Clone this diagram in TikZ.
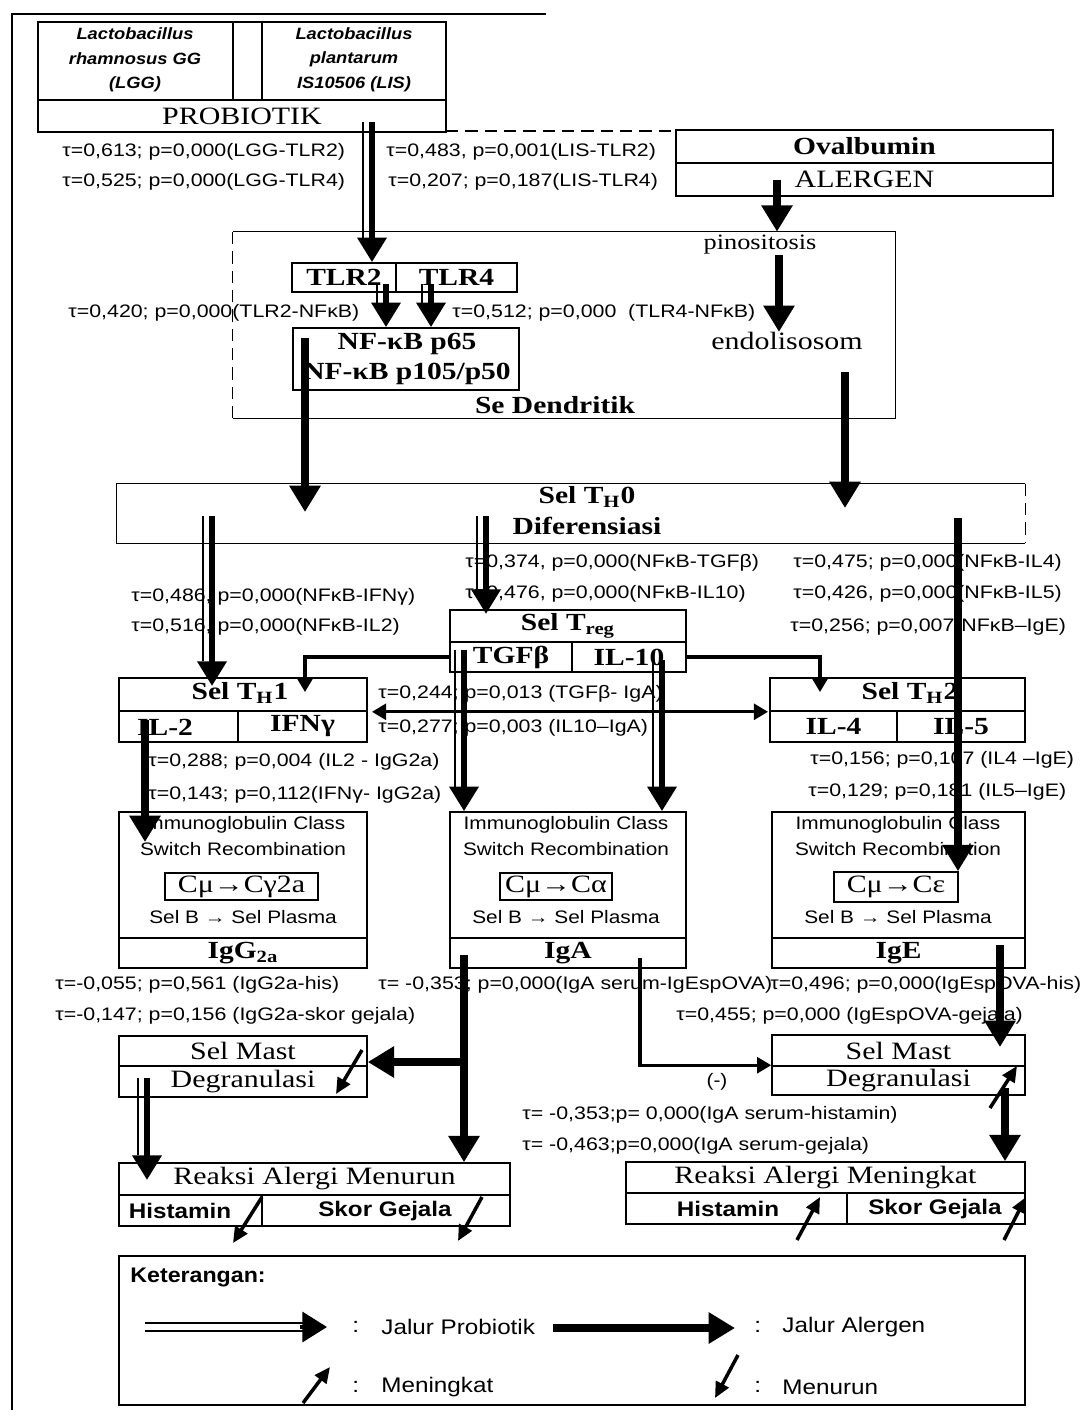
\documentclass[tikz,border=0pt]{standalone}
\usepackage{fontspec}
\setmainfont{Liberation Serif}
\setsansfont{Liberation Sans}
\usetikzlibrary{arrows.meta,fit,calc}
\tikzset{
  cell/.style={draw, line width=0.9pt, inner sep=0pt},
  area/.style={inner sep=0pt},
  side/.style={line width=0.9pt},
  dside/.style={line width=0.9pt, dash pattern=on 7pt off 4pt},
  sr/.style={font=\fontsize{14.2}{16}\selectfont, xscale=1.2, inner sep=0pt},
  srs/.style={font=\fontsize{12.5}{14}\selectfont, xscale=1.2, inner sep=0pt},
  srb/.style={font=\fontsize{14}{16}\selectfont\bfseries, xscale=1.2, inner sep=0pt},
  lab/.style={font=\sffamily\fontsize{10.3}{12}\selectfont, xscale=1.18, inner sep=0pt, anchor=west},
  sm/.style={font=\sffamily\fontsize{10.3}{12}\selectfont, xscale=1.15, inner sep=0pt},
  smb/.style={font=\sffamily\bfseries\fontsize{12}{13}\selectfont, xscale=1.15, inner sep=0pt},
  lat/.style={font=\sffamily\bfseries\itshape\fontsize{9.3}{11}\selectfont, xscale=1.12, inner sep=0pt},
  leg/.style={font=\sffamily\fontsize{12}{14}\selectfont, xscale=1.15, inner sep=0pt, anchor=west},
  legb/.style={font=\sffamily\bfseries\fontsize{12}{14}\selectfont, xscale=1.1, inner sep=0pt, anchor=west},
  alg/.style={line width=5pt, -{Triangle[length=15pt,width=17pt]}},
  prob/.style={line width=3.6pt, -{Triangle[length=14pt,width=16pt]}},
  thinl/.style={line width=0.9pt},
  conn/.style={line width=1.8pt, -{Triangle[length=8pt,width=9pt]}},
  conn2/.style={line width=1.8pt, {Triangle[length=8pt,width=9pt]}-{Triangle[length=8pt,width=9pt]}},
  tilt/.style={line width=2pt, -{Triangle[length=9pt,width=8pt]}},
}
\newcommand\probarrow[2]{%
  \draw[thinl] ([xshift=-5pt]#1) -- ([xshift=-5pt,yshift=14pt]#2);
  \draw[prob] (#1) -- (#2);}
\begin{document}
\begin{tikzpicture}[x=0.02cm,y=-0.02cm]
\useasboundingbox (0,0) rectangle (1087,1417);
\fill[white] (0,0) rectangle (1087,1417);

% outer frame
\coordinate (frTR) at (546,14);
\coordinate (frTL) at (12,14);
\coordinate (frBL) at (12,1410);
\draw[side] (frTR) -- (frTL) -- (frBL);

% PROBIOTIK
\node[cell, fit={(38,22) (233,100)}] (lgg) {};
\node[cell, fit={(233,22) (262,100)}] (gap) {};
\node[cell, fit={(262,22) (446,100)}] (lis) {};
\node[cell, fit={(38,100) (446,132)}] (probrow) {};
\node[lat] (lgg1) at (135,34) {Lactobacillus};
\node[lat] (lgg2) at (135,59) {rhamnosus GG};
\node[lat] (lgg3) at (135,84) {(LGG)};
\node[lat] (lis1) at (354,34) {Lactobacillus};
\node[lat] (lis2) at (354,59) {plantarum};
\node[lat] (lis3) at (354,84) {IS10506 (LIS)};
\node[sr] (probt) at (242,116) {PROBIOTIK};
\coordinate (dl1) at (446,131); \coordinate (dl2) at (676,131);
\draw[dside] (dl1) -- (dl2);

% ALERGEN
\node[cell, fit={(676,130) (1053,163)}] (ova) {};
\node[cell, fit={(676,163) (1053,196)}] (alrg) {};
\node[srb] (ovat) at (ova.center) {Ovalbumin};
\node[sr] (alrgt) at (alrg.center) {ALERGEN};

% top labels
\node[lab] (l1) at (62,152) {τ=0,613; p=0,000(LGG-TLR2)};
\node[lab] (l2) at (62,182) {τ=0,525; p=0,000(LGG-TLR4)};
\node[lab] (l3) at (386,152) {τ=0,483, p=0,001(LIS-TLR2)};
\node[lab] (l4) at (388,182) {τ=0,207; p=0,187(LIS-TLR4)};

% dendritic cell
\node[area, fit={(233,232) (895,418)}] (dc) {};
\draw[side] (dc.north west) -- (dc.north east) -- (dc.south east) -- (dc.south west);
\draw[dside] (dc.south west) -- (dc.north west);
\node[srs] (pino) at (760,245) {pinositosis};
\node[sr] (endo) at (787,341) {endolisosom};
\node[srb] (sedt) at (555,405) {Se Dendritik};
\node[cell, fit={(292,263) (396,292)}] (tlr2) {};
\node[cell, fit={(396,263) (517,292)}] (tlr4) {};
\node[srb] (tlr2t) at (tlr2.center) {TLR2};
\node[srb] (tlr4t) at (tlr4.center) {TLR4};
\node[cell, fit={(293,328) (519,390)}] (nfkb) {};
\node[srb] (nf1) at (407,344) {NF-κB p65};
\node[srb] (nf2) at (407,374) {NF-κB p105/p50};
\node[lab] (l5) at (68,313) {τ=0,420; p=0,000(TLR2-NFκB)};
\node[lab] (l6) at (452,313) {τ=0,512; p=0,000 \ (TLR4-NFκB)};

% TH0
\node[area, fit={(117,484) (1025,543)}] (th0) {};
\draw[side] (th0.north east) -- (th0.north west) -- (th0.south west) -- (th0.south east);
\draw[dside] (th0.north east) -- (th0.south east);
\node[srb] (th0a) at (587,497) {Sel T\textsubscript{H}0};
\node[srb] (th0b) at (587,526) {Diferensiasi};

\node[lab] (l7) at (465,563) {τ=0,374, p=0,000(NFκB-TGFβ)};
\node[lab] (l8) at (465,594) {τ=0,476, p=0,000(NFκB-IL10)};
\node[lab] (l9) at (131,597) {τ=0,486, p=0,000(NFκB-IFNγ)};
\node[lab] (l10) at (131,627) {τ=0,516, p=0,000(NFκB-IL2)};
\node[lab] (l11) at (793,563) {τ=0,475; p=0,000(NFκB-IL4)};
\node[lab] (l12) at (793,594) {τ=0,426, p=0,000(NFκB-IL5)};
\node[lab] (l13) at (790,627) {τ=0,256; p=0,007(NFκB–IgE)};

% Treg
\node[cell, fit={(450,610) (686,642)}] (treg) {};
\node[cell, fit={(450,642) (572,672)}] (tgfb) {};
\node[cell, fit={(572,642) (686,672)}] (il10) {};
\node[srb] (tregt) at (treg.center) {Sel T\textsubscript{reg}};
\node[srb] (tgfbt) at (tgfb.center) {TGFβ};
\node[srb] (il10t) at (il10.center) {IL-10};

% TH1
\node[cell, fit={(119,678) (367,711)}] (th1) {};
\node[cell, fit={(119,711) (238,742)}] (il2) {};
\node[cell, fit={(238,711) (367,742)}] (ifng) {};
\node[srb] (th1t) at (240,693) {Sel T\textsubscript{H}1};
\node[srb] (il2t) at (165,727) {IL-2};
\node[srb] (ifngt) at (ifng.center) {IFNγ};

% TH2
\node[cell, fit={(770,678) (1025,711)}] (th2) {};
\node[cell, fit={(770,711) (897,742)}] (il4) {};
\node[cell, fit={(897,711) (1025,742)}] (il5) {};
\node[srb] (th2t) at (910,693) {Sel T\textsubscript{H}2};
\node[srb] (il4t) at (il4.center) {IL-4};
\node[srb] (il5t) at (il5.center) {IL-5};

\node[lab] (l14) at (378,694) {τ=0,244; p=0,013 (TGFβ- IgA)};
\node[lab] (l15) at (378,728) {τ=0,277; p=0,003 (IL10–IgA)};
\node[lab] (l16) at (148,762) {τ=0,288; p=0,004 (IL2 - IgG2a)};
\node[lab] (l17) at (148,795) {τ=0,143; p=0,112(IFNγ- IgG2a)};
\node[lab] (l18) at (810,760) {τ=0,156; p=0,107 (IL4 –IgE)};
\node[lab] (l19) at (808,792) {τ=0,129; p=0,181 (IL5–IgE)};

% ICSR left
\node[cell, fit={(119,812) (367,938)}] (csl) {};
\node[cell, fit={(119,938) (367,968)}] (igg) {};
\node[cell, fit={(165,873) (318,900)}] (cgl) {};
\node[sm] (csl1) at (243,825) {Immunoglobulin Class};
\node[sm] (csl2) at (243,849) {Switch Recombination};
\node[sr] (cglt) at (cgl.center) {Cμ→Cγ2a};
\node[sm] (csl3) at (243,917) {Sel B → Sel Plasma};
\node[srb] (iggt) at (igg.center) {IgG\textsubscript{2a}};

% ICSR middle
\node[cell, fit={(450,812) (686,938)}] (csm) {};
\node[cell, fit={(450,938) (686,968)}] (iga) {};
\node[cell, fit={(500,873) (612,900)}] (cam) {};
\node[sm] (csm1) at (566,825) {Immunoglobulin Class};
\node[sm] (csm2) at (566,849) {Switch Recombination};
\node[sr] (camt) at (cam.center) {Cμ→Cα};
\node[sm] (csm3) at (566,917) {Sel B → Sel Plasma};
\node[srb] (igat) at (iga.center) {IgA};

% ICSR right
\node[cell, fit={(772,812) (1025,938)}] (csr) {};
\node[cell, fit={(772,938) (1025,968)}] (ige) {};
\node[cell, fit={(834,872) (958,902)}] (cer) {};
\node[sm] (csr1) at (898,825) {Immunoglobulin Class};
\node[sm] (csr2) at (898,849) {Switch Recombination};
\node[sr] (cert) at (cer.center) {Cμ→Cε};
\node[sm] (csr3) at (898,917) {Sel B → Sel Plasma};
\node[srb] (iget) at (ige.center) {IgE};

\node[lab] (l20) at (55,985) {τ=-0,055; p=0,561 (IgG2a-his)};
\node[lab] (l21) at (378,985) {τ= -0,353; p=0,000(IgA serum-IgEspOVA)};
\node[lab] (l22) at (770,985) {τ=0,496; p=0,000(IgEspOVA-his)};
\node[lab] (l23) at (55,1016) {τ=-0,147; p=0,156 (IgG2a-skor gejala)};
\node[lab] (l24) at (676,1016) {τ=0,455; p=0,000 (IgEspOVA-gejala)};

% Sel Mast
\node[cell, fit={(119,1036) (367,1066)}] (mastl) {};
\node[cell, fit={(119,1066) (367,1097)}] (degl) {};
\node[sr] (mastlt) at (mastl.center) {Sel Mast};
\node[sr] (deglt) at (degl.center) {Degranulasi};
\node[cell, fit={(772,1035) (1025,1066)}] (mastr) {};
\node[cell, fit={(772,1066) (1025,1095)}] (degr) {};
\node[sr] (mastrt) at (mastr.center) {Sel Mast};
\node[sr] (degrt) at (degr.center) {Degranulasi};
\node[sm] (neg) at (717,1082) {(-)};

\node[lab] (l25) at (522,1115) {τ= -0,353;p= 0,000(IgA serum-histamin)};
\node[lab] (l26) at (522,1146) {τ= -0,463;p=0,000(IgA serum-gejala)};

% Reaksi alergi
\node[cell, fit={(119,1163) (510,1195)}] (rm) {};
\node[cell, fit={(119,1195) (262,1226)}] (rmh) {};
\node[cell, fit={(262,1195) (510,1226)}] (rms) {};
\node[sr] (rmt) at (rm.center) {Reaksi Alergi Menurun};
\node[smb] (rmht) at (180,1211) {Histamin};
\node[smb] (rmst) at (385,1211) {Skor Gejala};
\node[cell, fit={(626,1162) (1025,1193)}] (rk) {};
\node[cell, fit={(626,1193) (847,1224)}] (rkh) {};
\node[cell, fit={(847,1193) (1025,1224)}] (rks) {};
\node[sr] (rkt) at (rk.center) {Reaksi Alergi Meningkat};
\node[smb] (rkht) at (728,1209) {Histamin};
\node[smb] (rkst) at (935,1209) {Skor Gejala};

% legend
\node[cell, fit={(119,1256) (1025,1405)}] (legbox) {};
\node[legb] (ket) at (130,1277) {Keterangan:};
\node[leg] (c1) at (352,1327) {:};
\node[leg] (jp) at (381,1327) {Jalur Probiotik};
\node[leg] (c2) at (754,1327) {:};
\node[leg] (ja) at (782,1327) {Jalur Alergen};
\node[leg] (c3) at (352,1387) {:};
\node[leg] (mg) at (381,1387) {Meningkat};
\node[leg] (c4) at (754,1387) {:};
\node[leg] (mn) at (782,1387) {Menurun};

% ===== connectors =====
\coordinate (a1s) at (372,122);
\coordinate (a1e) at (tlr2.north -| 372,0);
\probarrow{a1s}{a1e}
\draw[alg] (alrg.center -| 777,0) -- (dc.north -| 777,0);
\draw[alg] (pino.south -| 779,0) -- (endo.north -| 779,0);
\coordinate (a4s) at (386,284); \coordinate (a4e) at (nfkb.north -| 386,0);
\probarrow{a4s}{a4e}
\coordinate (a5s) at (431,284); \coordinate (a5e) at (nfkb.north -| 431,0);
\probarrow{a5s}{a5e}
\coordinate (a6s) at (305,338); \coordinate (a6e) at (305,512);
\draw[alg] (a6s) -- (a6e);
\coordinate (a7s) at (845,372); \coordinate (a7e) at (845,508);
\draw[alg] (a7s) -- (a7e);
\coordinate (a8s) at (212,516); \coordinate (a8e) at (212,686);
\probarrow{a8s}{a8e}
\coordinate (a9s) at (486,516); \coordinate (a9e) at (486,614);
\probarrow{a9s}{a9e}
\coordinate (a10s) at (958,518); \coordinate (a10e) at (cer.north -| 958,0);
\draw[alg] (a10s) -- (a10e);
\coordinate (a11e) at (305,692);
\draw[conn] (tgfb.west) -| (a11e);
\coordinate (a12e) at (820,692);
\draw[conn] (il10.east) -| (a12e);
\draw[conn2] (th1.south east -| 372,0) -- (th2.south west -| 768,0);
\coordinate (a13s) at (145,720); \coordinate (a13e) at (145,842);
\draw[alg] (a13s) -- (a13e);
\coordinate (a14s) at (464,650); \coordinate (a14e) at (csm.north -| 464,0);
\probarrow{a14s}{a14e}
\coordinate (a15s) at (662,660); \coordinate (a15e) at (csm.north -| 662,0);
\probarrow{a15s}{a15e}
\coordinate (a16s) at (464,955); \coordinate (a16e) at (rm.north -| 464,0);
\draw[alg] (a16s) -- (a16e);
\coordinate (a17s) at (466,1062);
\draw[alg] (a17s) -- (mastl.south east |- a17s);
\coordinate (a18s) at (640,958);
\draw[conn] (a18s) |- (degr.north west);
\coordinate (a19s) at (1000,945); \coordinate (a19e) at (1000,1047);
\draw[alg] (a19s) -- (a19e);
\coordinate (a20s) at (1005,1088); \coordinate (a20e) at (rk.north -| 1005,0);
\draw[alg] (a20s) -- (a20e);
\coordinate (a21s) at (147,1078); \coordinate (a21e) at (147,1180);
\probarrow{a21s}{a21e}

% increase / decrease markers
\coordinate (u1s) at (990,1108); \coordinate (u1e) at (1017,1066);
\draw[tilt] (u1s) -- (u1e);
\coordinate (u2s) at (797,1240); \coordinate (u2e) at (820,1197);
\draw[tilt] (u2s) -- (u2e);
\coordinate (u3s) at (1004,1240); \coordinate (u3e) at (1026,1197);
\draw[tilt] (u3s) -- (u3e);
\coordinate (d1s) at (362,1050); \coordinate (d1e) at (336,1094);
\draw[tilt] (d1s) -- (d1e);
\coordinate (d2s) at (262,1197); \coordinate (d2e) at (233,1243);
\draw[tilt] (d2s) -- (d2e);
\coordinate (d3s) at (482,1197); \coordinate (d3e) at (458,1241);
\draw[tilt] (d3s) -- (d3e);

% legend glyphs
\coordinate (lp1) at (145,1323); \coordinate (lp2) at (306,1323);
\coordinate (lp3) at (145,1331); \coordinate (lp4) at (306,1331);
\draw[line width=1.6pt] (lp1) -- (lp2);
\draw[line width=1.6pt] (lp3) -- (lp4);
\coordinate (lp5) at (300,1327); \coordinate (lp6) at (327,1327);
\draw[line width=2pt, -{Triangle[length=14pt,width=17pt]}] (lp5) -- (lp6);
\coordinate (la1) at (553,1328); \coordinate (la2) at (735,1328);
\draw[alg] (la1) -- (la2);
\coordinate (lu1) at (303,1403); \coordinate (lu2) at (330,1367);
\draw[tilt] (lu1) -- (lu2);
\coordinate (ld1) at (738,1355); \coordinate (ld2) at (715,1398);
\draw[tilt] (ld1) -- (ld2);
\end{tikzpicture}
\end{document}
